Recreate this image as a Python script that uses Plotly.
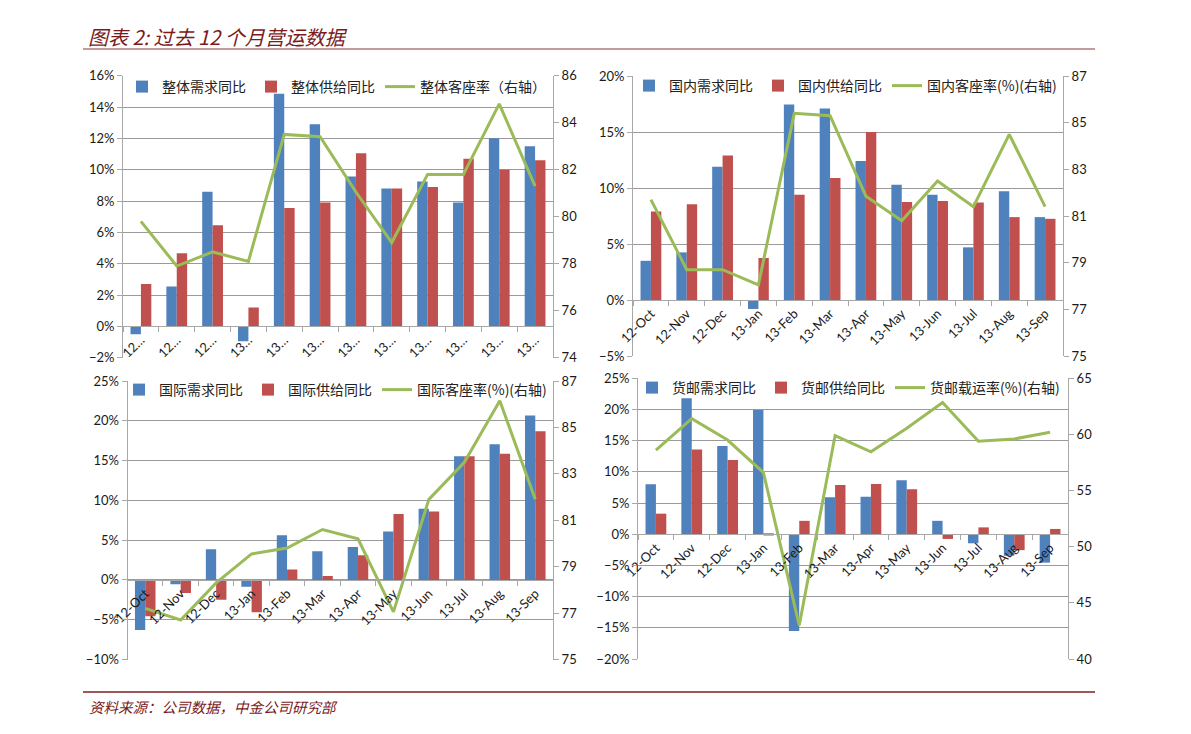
import plotly.graph_objects as go

W, H = 1191, 734

months = ["12-Oct", "12-Nov", "12-Dec", "13-Jan", "13-Feb", "13-Mar",
          "13-Apr", "13-May", "13-Jun", "13-Jul", "13-Aug", "13-Sep"]
months_short = ["12…", "12…", "12…", "13…", "13…", "13…",
                "13…", "13…", "13…", "13…", "13…", "13…"]

# Panel 1: overall
total_demand = [-0.5, 2.55, 8.6, -0.95, 14.85, 12.9, 9.57, 8.8, 9.25, 7.9, 12.0, 11.5]
total_supply = [2.7, 4.66, 6.45, 1.2, 7.55, 7.9, 11.05, 8.8, 8.9, 10.7, 10.0, 10.6]
total_load = [79.8, 77.9, 78.5, 78.1, 83.5, 83.4, 81.05, 78.9, 81.8, 81.8, 84.8, 81.3]

# Panel 2: domestic
dom_demand = [3.5, 4.25, 11.9, -0.8, 17.45, 17.1, 12.4, 10.3, 9.4, 4.7, 9.7, 7.4]
dom_supply = [7.9, 8.55, 12.9, 3.75, 9.4, 10.9, 15.0, 8.75, 8.85, 8.7, 7.4, 7.25]
dom_load = [81.7, 78.7, 78.7, 78.05, 85.4, 85.3, 81.85, 80.8, 82.5, 81.4, 84.5, 81.4]

# Panel 3: international
intl_demand = [-6.3, -0.55, 3.85, -0.85, 5.6, 3.6, 4.15, 6.1, 8.95, 15.55, 17.05, 20.65]
intl_supply = [-4.55, -1.65, -2.5, -4.05, 1.3, 0.5, 3.1, 8.3, 8.6, 15.55, 15.85, 18.7]
intl_load = [77.2, 76.7, 78.3, 79.55, 79.8, 80.6, 80.2, 77.05, 81.9, 83.5, 86.15, 81.9]

# Panel 4: cargo
cargo_demand = [8.0, 21.8, 14.15, 19.9, -15.5, 5.95, 6.0, 8.65, 2.15, -1.45, -3.45, -4.55]
cargo_supply = [3.3, 13.6, 11.9, -0.2, 2.15, 7.9, 8.05, 7.2, -0.75, 1.1, -2.55, 0.85]
cargo_load = [58.6, 61.4, 59.5, 56.6, 43.0, 59.9, 58.45, 60.55, 62.85, 59.4, 59.6, 60.2]

BLUE, RED, GREEN = "#4F81BD", "#C0504D", "#9BBB59"
GRID, AXIS = "#9A9A9A", "#A8A8A8"
TICKFONT = dict(family="Lato, Liberation Sans, sans-serif", size=13, color="#1a1a1a")
CJK = "Noto Sans CJK SC, sans-serif"

panels = [
    dict(dem=total_demand, sup=total_supply, load=total_load,
         names=["整体需求同比", "整体供给同比", "整体客座率（右轴）"],
         px=(123, 553), py=(75.7, 357.7), yr=(-2, 16), ydt=2, y2r=(74, 86), y2dt=2,
         ticktext=months_short, leg=(122, 87)),
    dict(dem=dom_demand, sup=dom_supply, load=dom_load,
         names=["国内需求同比", "国内供给同比", "国内客座率(%)(右轴)"],
         px=(633, 1063), py=(76, 356), yr=(-5, 20), ydt=5, y2r=(75, 87), y2dt=2,
         ticktext=months, leg=(629, 86)),
    dict(dem=intl_demand, sup=intl_supply, load=intl_load,
         names=["国际需求同比", "国际供给同比", "国际客座率(%)(右轴)"],
         px=(127.5, 553), py=(381, 659.5), yr=(-10, 25), ydt=5, y2r=(75, 87), y2dt=2,
         ticktext=months, leg=(119, 390)),
    dict(dem=cargo_demand, sup=cargo_supply, load=cargo_load,
         names=["货邮需求同比", "货邮供给同比", "货邮载运率(%)(右轴)"],
         px=(638, 1068), py=(378.3, 659), yr=(-20, 25), ydt=5, y2r=(40, 65), y2dt=5,
         ticktext=months, leg=(632, 388)),
]

fig = go.Figure()
layout = dict(
    width=W, height=H, margin=dict(l=0, r=0, t=0, b=0, autoexpand=False),
    paper_bgcolor="white", plot_bgcolor="white",
    barmode="group", bargap=0.42, bargroupgap=0,
    showlegend=True,
)

for i, p in enumerate(panels):
    n = i + 1
    xa = "x" if n == 1 else f"x{n}"
    ya_n = 2 * n - 1
    y2_n = 2 * n
    ya = "y" if ya_n == 1 else f"y{ya_n}"
    y2 = f"y{y2_n}"
    leg = "legend" if n == 1 else f"legend{n}"

    x0, x1 = p["px"][0] / W, p["px"][1] / W
    ytop, ybot = 1 - p["py"][0] / H, 1 - p["py"][1] / H
    lo, hi = p["yr"]
    zero_pos = ybot + (0 - lo) / (hi - lo) * (ytop - ybot)

    fig.add_trace(go.Bar(x=months, y=p["dem"], name=p["names"][0], marker_color=BLUE,
                         marker_line_width=0, xaxis=xa, yaxis=ya, legend=leg,
                         offsetgroup=f"a{n}"))
    fig.add_trace(go.Bar(x=months, y=p["sup"], name=p["names"][1], marker_color=RED,
                         marker_line_width=0, xaxis=xa, yaxis=ya, legend=leg,
                         offsetgroup=f"b{n}"))
    fig.add_trace(go.Scatter(x=months, y=p["load"], name=p["names"][2], mode="lines",
                             line=dict(color=GREEN, width=3), xaxis=xa, yaxis=y2, legend=leg))

    xkey = "xaxis" if n == 1 else f"xaxis{n}"
    ykey = "yaxis" if ya_n == 1 else f"yaxis{ya_n}"
    y2key = f"yaxis{y2_n}"

    layout[xkey] = dict(domain=[x0, x1], anchor="free", position=zero_pos,
                        type="category", tickvals=months, ticktext=p["ticktext"],
                        tickangle=-45, tickfont=TICKFONT, showgrid=False,
                        showline=True, linecolor=AXIS, linewidth=1,
                        ticks="outside", tickson="boundaries", ticklen=5,
                        tickcolor=AXIS, zeroline=False, automargin=False)
    layout[ykey] = dict(domain=[ybot, ytop], anchor=xa, range=list(p["yr"]),
                        dtick=p["ydt"], tick0=0, ticksuffix="%", tickfont=TICKFONT,
                        showgrid=True, gridcolor=GRID, gridwidth=1,
                        showline=True, linecolor=AXIS, linewidth=1,
                        ticks="outside", ticklen=5, tickcolor=AXIS,
                        zeroline=False, automargin=False)
    layout[y2key] = dict(overlaying=ya, side="right", anchor=xa, range=list(p["y2r"]),
                         dtick=p["y2dt"], tick0=p["y2r"][0], tickfont=TICKFONT,
                         showgrid=False, showline=True, linecolor=AXIS, linewidth=1,
                         ticks="outside", ticklen=5, tickcolor=AXIS, zeroline=False,
                         automargin=False)
    layout[leg] = dict(orientation="h", x=p["leg"][0] / W, y=1 - p["leg"][1] / H,
                       xanchor="left", yanchor="middle", bgcolor="rgba(0,0,0,0)",
                       font=dict(family=CJK, size=14, color="#222"),
                       itemwidth=30, traceorder="normal")

fig.update_layout(**layout)

# Title & footer
fig.add_annotation(text="图表 2: 过去 12 个月营运数据", x=86 / W, y=1 - 36 / H,
                   xref="paper", yref="paper", xanchor="left", yanchor="middle",
                   showarrow=False,
                   font=dict(family=CJK, size=20, color="#7B1A1A", style="italic"))
fig.add_annotation(text="资料来源：公司数据，中金公司研究部", x=87 / W, y=1 - 706 / H,
                   xref="paper", yref="paper", xanchor="left", yanchor="middle",
                   showarrow=False,
                   font=dict(family=CJK, size=14.5, color="#7B1A1A", style="italic"))
fig.add_shape(type="line", xref="paper", yref="paper", x0=83 / W, x1=1095 / W,
              y0=1 - 49 / H, y1=1 - 49 / H, line=dict(color="#B37A7A", width=1.5))
fig.add_shape(type="line", xref="paper", yref="paper", x0=83 / W, x1=1095 / W,
              y0=1 - 692 / H, y1=1 - 692 / H, line=dict(color="#7F1F1F", width=1.5))

fig.write_html("out.html", config={"displayModeBar": False},
               post_script="document.body.style.margin='0';")
